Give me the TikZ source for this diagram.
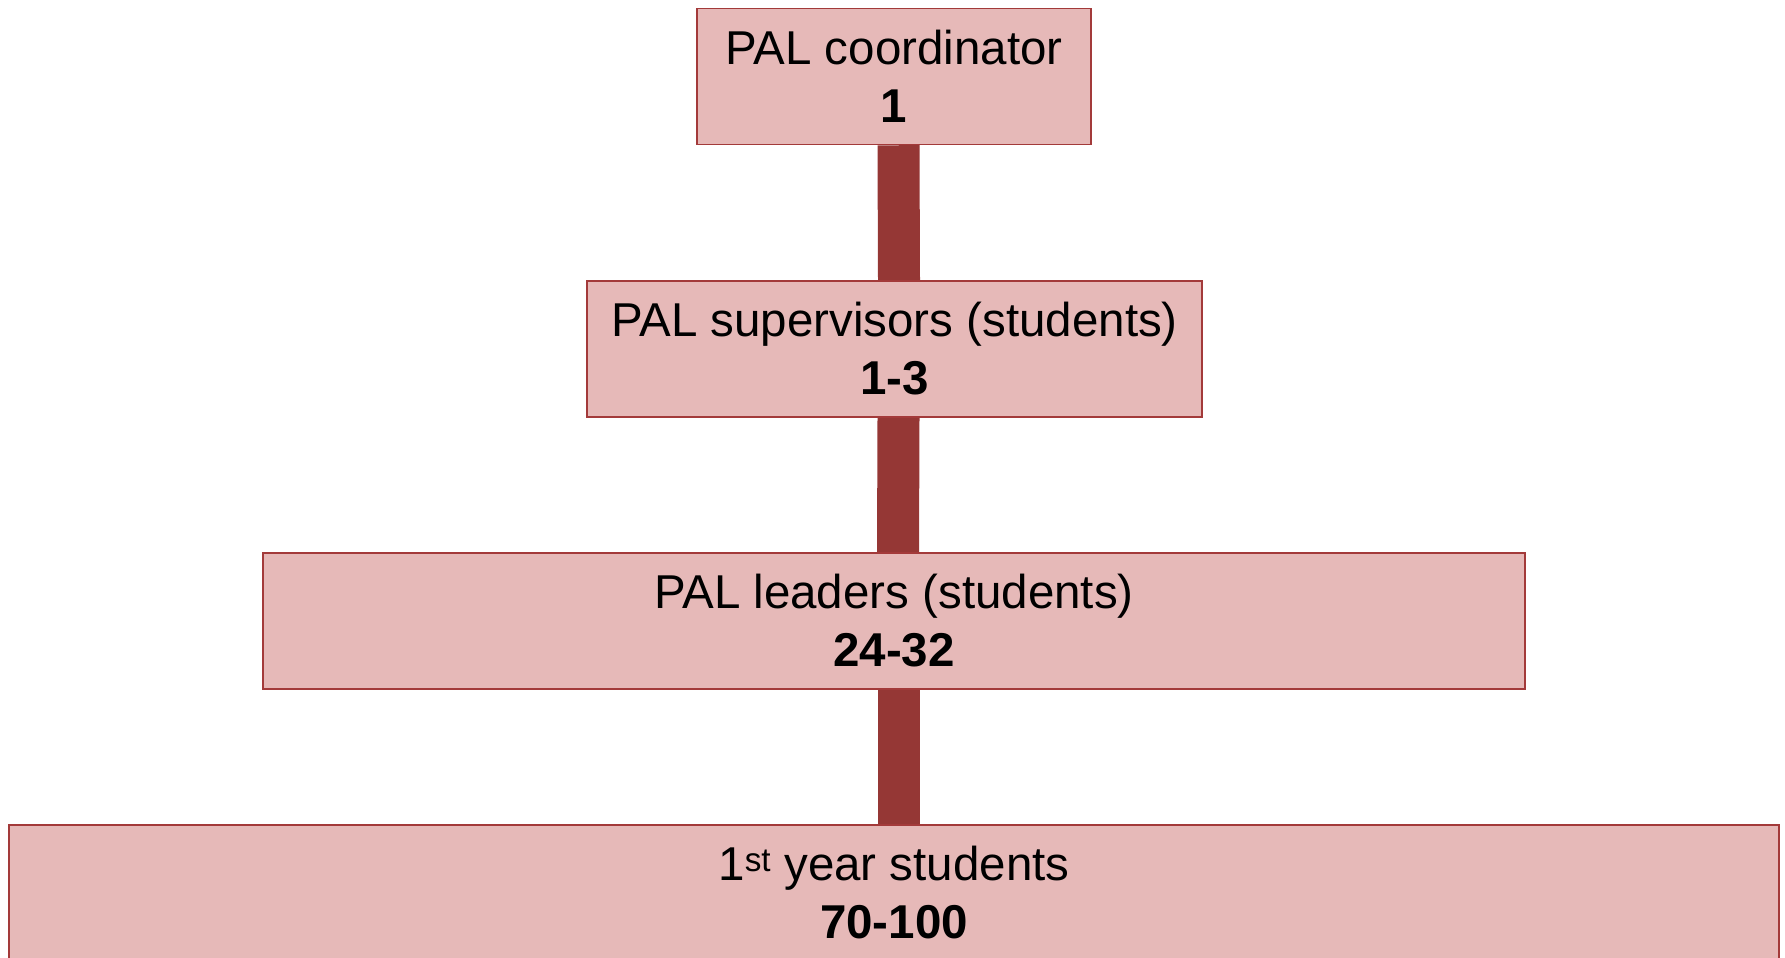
\documentclass[tikz,border=0pt]{standalone}
\usepackage{fontspec}
\setmainfont{Liberation Sans}
\usetikzlibrary{backgrounds}
\definecolor{boxfill}{HTML}{E6B9B8}
\definecolor{boxline}{HTML}{A33A3A}
\definecolor{linkcol}{HTML}{953735}
\tikzset{
  levelbox/.style={draw=boxline, line width=1.5pt, fill=boxfill, rectangle,
    inner sep=0pt, minimum height=136pt, align=center,
    font=\fontsize{47.5}{58}\selectfont, text=black},
  link/.style={draw=linkcol, line width=42pt}
}
\begin{document}
\begin{tikzpicture}[x=1pt,y=-1pt]
\clip (0,0) rectangle (1785,958);
\node[levelbox, minimum width=394pt] (b1) at (894,76.5) {PAL coordinator\\\textbf{1}};
\node[levelbox, minimum width=615pt] (b2) at (894.5,349) {PAL supervisors (students)\\\textbf{1-3}};
\node[levelbox, minimum width=1262pt] (b3) at (894,621) {PAL leaders (students)\\\textbf{24-32}};
\node[levelbox, minimum width=1770pt] (b4) at (894,893) {1\textsuperscript{st} year students\\\textbf{70-100}};
\begin{scope}[on background layer]
\draw[link] ([xshift=4.5pt]b1.south) -- ([xshift=4.5pt]b2.north);
\draw[link] ([xshift=4pt]b2.south) -- ([xshift=4pt]b3.north);
\draw[link] ([xshift=4.5pt]b3.south) -- ([xshift=4.5pt]b4.north);
\end{scope}
\end{tikzpicture}
\end{document}
